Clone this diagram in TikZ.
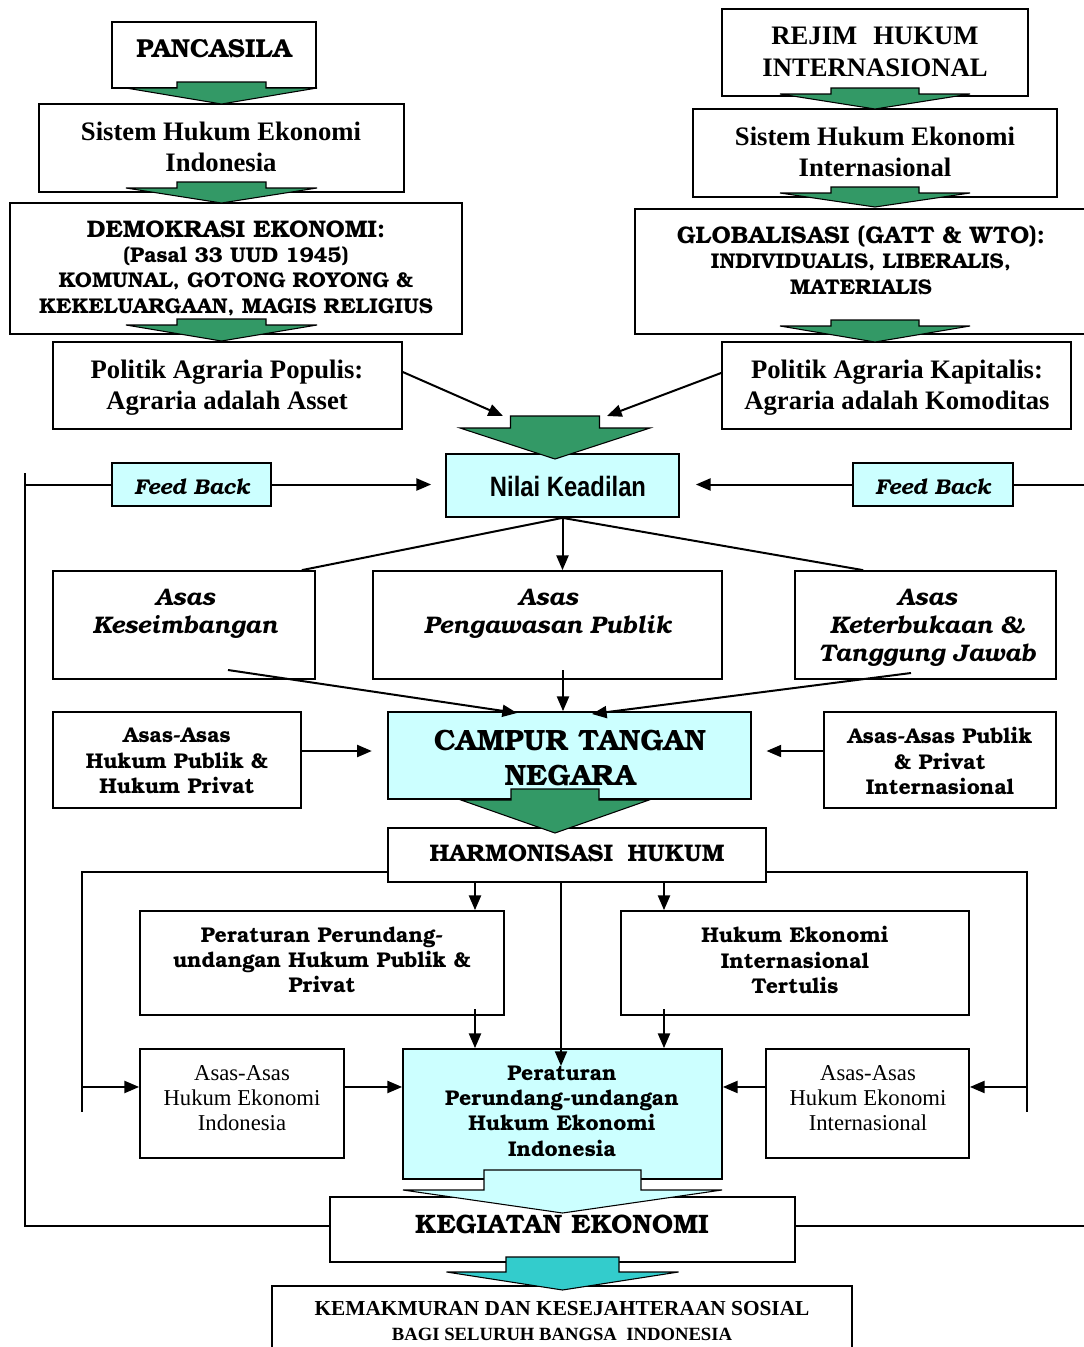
\documentclass[tikz,border=0pt]{standalone}
\usepackage{fontspec}
\setmainfont{Liberation Serif}
\newfontfamily\bk{texgyrebonum}[Extension=.otf,UprightFont=*-regular,BoldFont=*-bold,ItalicFont=*-italic,BoldItalicFont=*-bolditalic]
\newfontfamily\arn{Liberation Sans}[FakeStretch=0.85]
\usetikzlibrary{arrows.meta,fit,calc}
\definecolor{sea}{HTML}{339966}
\definecolor{lcyan}{HTML}{CCFFFF}
\definecolor{teal2}{HTML}{33CCCC}
\newcommand\fsz[2]{\fontsize{#1}{#2}\selectfont}
\newcommand\blockarr[7]{%
  \draw[#7] ({#1-#2},#3) -- ({#1+#2},#3) -- ({#1+#2},#5) -- ({#1+#4},#5) -- (#1,#6) -- ({#1-#4},#5) -- ({#1-#2},#5) -- cycle;}
\tikzset{
  box/.style={draw, line width=1.3pt, inner sep=0pt, fill=white},
  cbox/.style={box, fill=lcyan},
  txt/.style={align=center, inner sep=0pt},
  conn/.style={line width=1.5pt},
  arr/.style={conn, -{Triangle[length=11pt,width=9pt]}},
  blk/.style={draw, line width=0.8pt, fill=sea, line join=miter},
}
\begin{document}
\begin{tikzpicture}[x=0.75pt,y=-0.75pt]
\useasboundingbox (0,0) rectangle (1084,1347);
\clip (0,0) rectangle (1084,1347);
\fill[white] (0,0) rectangle (1084,1347);
% ---------- boxes ----------
\node[box, fit={(112,22) (316,88)}] (panc) {};
\node[box, fit={(39,104) (404,192)}] (shei) {};
\node[box, fit={(10,203) (462,334)}] (demo) {};
\node[box, fit={(53,342) (402,429)}] (pop) {};
\node[box, fit={(722,9) (1028,96)}] (rejim) {};
\node[box, fit={(693,109) (1057,197)}] (shein) {};
\node[box, fit={(635,209) (1090,334)}] (glob) {};
\node[box, fit={(722,342) (1071,429)}] (kap) {};
\node[cbox, fit={(446,454) (679,517)}] (nilai) {};
\node[cbox, fit={(112,463) (271,506)}] (fbL) {};
\node[cbox, fit={(853,463) (1013,506)}] (fbR) {};
\node[box, fit={(53,571) (315,679)}] (ask) {};
\node[box, fit={(373,571) (722,679)}] (apg) {};
\node[box, fit={(795,571) (1056,679)}] (akt) {};
\node[cbox, fit={(388,712) (751,799)}] (campur) {};
\node[box, fit={(53,712) (301,808)}] (ahp) {};
\node[box, fit={(824,712) (1056,808)}] (app) {};
\node[box, fit={(388,828) (766,882)}] (harm) {};
\node[box, fit={(140,911) (504,1015)}] (pphp) {};
\node[box, fit={(621,911) (969,1015)}] (heit) {};
\node[box, fit={(140,1049) (344,1158)}] (aheI) {};
\node[cbox, fit={(403,1049) (722,1179)}] (pphe) {};
\node[box, fit={(766,1049) (969,1158)}] (aheInt) {};
\node[box, fit={(330,1197) (795,1262)}] (keg) {};
\node[box, fit={(272,1286) (852,1362)}] (kem) {};
% ---------- connectors ----------
\coordinate (bigL) at (503,416);
\coordinate (bigR) at (607,416);
\draw[arr] ([yshift=10.1pt]pop.east) -- (bigL);
\draw[arr] ([yshift=9.4pt]kap.west) -- (bigR);
% feedback loop
\coordinate (fbTL) at (25,473);
\coordinate (fbBL) at (25,1226);
\coordinate (fbBR) at (1090,1226);
\coordinate (fbTR) at (1090,484);
\draw[conn] (fbTL) -- (fbBL) -- (fbBL -| keg.west);
\draw[conn] (keg.east |- fbBR) -- (fbBR);
\draw[conn] (fbL.west -| fbTL) -- (fbL.west);
\draw[arr, shorten >=10.5pt] (fbL.east) -- (fbL.east -| nilai.west);
\draw[arr, shorten >=12pt] (fbR.west) -- (fbR.west -| nilai.east);
\draw[conn] (fbR.east) -- (fbR.east -| fbTR);
% nilai to asas
\draw[conn] (nilai.south) -- ([xshift=-10.5pt]ask.north east);
\draw[conn] (nilai.south) -- ([xshift=51.75pt]akt.north west);
\draw[arr] (nilai.south) -- (nilai.south |- apg.north);
% asas to campur
\coordinate (askOut) at (228,670);
\coordinate (apgOut) at (563,670);
\coordinate (aktOut) at (911,673);
\coordinate (cIn1) at (517,713);
\coordinate (cIn3) at (592,714);
\draw[arr] (askOut) -- (cIn1);
\draw[arr] (apgOut) -- (apgOut |- campur.north);
\draw[arr] (aktOut) -- (cIn3);
\coordinate (hpOut) at ([yshift=6.75pt]ahp.east);
\coordinate (ppOut) at ([yshift=6.75pt]app.west);
\draw[arr, shorten >=11.5pt] (hpOut) -- (hpOut -| campur.west);
\draw[arr, shorten >=11pt] (ppOut) -- (ppOut -| campur.east);
% harmonisasi
\coordinate (hL) at (82,1112);
\coordinate (hR) at (1027,1112);
\draw[conn] ([yshift=-12.75pt]harm.west) -| (hL);
\draw[conn] ([yshift=-12.75pt]harm.east) -| (hR);
\coordinate (aL) at ([yshift=12.4pt]aheI.west);
\coordinate (aR) at ([yshift=12.4pt]aheInt.east);
\coordinate (aM1) at ([yshift=12.4pt]aheI.east);
\coordinate (aM2) at ([yshift=12.4pt]aheInt.west);
\draw[arr] (aL -| hL) -- (aL);
\draw[arr] (aR -| hR) -- (aR);
\draw[arr] (aM1) -- (aM1 -| pphe.west);
\draw[arr] (aM2) -- (aM2 -| pphe.east);
\coordinate (v1) at (475,0);
\coordinate (v2) at (664,0);
\coordinate (v0) at (561,0);
\draw[arr] (harm.south -| v1) -- (pphp.north -| v1);
\draw[arr] (harm.south -| v2) -- (heit.north -| v2);
\coordinate (vIn) at (561,1066);
\draw[arr] (harm.south -| v0) -- (vIn);
\coordinate (p1) at (475,1009);
\coordinate (p2) at (664,1009);
\draw[arr] (p1) -- (p1 |- pphe.north);
\draw[arr] (p2) -- (p2 |- pphe.north);
% ---------- block arrows ----------
\blockarr{221.5}{44.5}{82}{95.5}{88}{104}{blk}
\blockarr{221.5}{44.5}{182}{95.5}{188}{203}{blk}
\blockarr{221.5}{44.5}{319}{95.5}{325}{341}{blk}
\blockarr{875}{44}{88}{95}{94}{109}{blk}
\blockarr{875}{44}{187}{95}{193}{207}{blk}
\blockarr{875}{44}{320}{95}{326}{342}{blk}
\blockarr{555}{44.5}{416}{95}{428}{459}{blk}
\blockarr{555}{44}{789}{94}{800}{833}{blk}
\blockarr{562.5}{78.5}{1170}{159.5}{1190}{1213}{blk, fill=lcyan}
\blockarr{562.5}{56.5}{1257}{116}{1272}{1290}{blk, fill=teal2}
% ---------- texts ----------
\node[txt, font=\bk\bfseries\fsz{19.5}{23}] (tpanc) at (214,49) {PANCASILA};
\node[txt, font=\bfseries\fsz{20}{23.5}] (tshei) at (221,147) {Sistem Hukum Ekonomi\\Indonesia};
\node[txt, font=\bk\bfseries\fsz{16}{19}] (tdemo) at (236,268) {{\fsz{18}{19}DEMOKRASI EKONOMI:}\\(Pasal 33 UUD 1945)\\KOMUNAL, GOTONG ROYONG \&\\KEKELUARGAAN, MAGIS RELIGIUS};
\node[txt, font=\bfseries\fsz{20}{23.5}] (tpop) at (227,388) {Politik Agraria Populis:\\Agraria adalah Asset};
\node[txt, font=\bfseries\fsz{20}{24}] (trejim) at (875,52) {REJIM\hspace{0.6em}HUKUM\\INTERNASIONAL};
\node[txt, font=\bfseries\fsz{20}{23.5}] (tshein) at (875,152) {Sistem Hukum Ekonomi\\Internasional};
\node[txt, font=\bk\bfseries\fsz{16}{19}] (tglob) at (861,260) {{\fsz{18}{19}GLOBALISASI (GATT \& WTO):}\\INDIVIDUALIS, LIBERALIS,\\MATERIALIS};
\node[txt, font=\bfseries\fsz{20}{23.5}] (tkap) at (897,388) {Politik Agraria Kapitalis:\\Agraria adalah Komoditas};
\node[txt, font=\arn\bfseries\fsz{21}{24}] (tnilai) at (568,486) {Nilai Keadilan};
\node[txt, font=\bk\bfseries\itshape\fsz{16}{19}] (tfbL) at (192,487) {Feed Back};
\node[txt, font=\bk\bfseries\itshape\fsz{16}{19}] (tfbR) at (933,487) {Feed Back};
\node[txt, font=\bk\bfseries\itshape\fsz{18}{21}] (task) at (185,614) {Asas\\Keseimbangan};
\node[txt, font=\bk\bfseries\itshape\fsz{18}{21}] (tapg) at (548,614) {Asas\\Pengawasan Publik};
\node[txt, font=\bk\bfseries\itshape\fsz{18}{21}] (takt) at (927,628) {Asas\\Keterbukaan \&\\Tanggung Jawab};
\node[txt, font=\bk\bfseries\fsz{22}{26}] (tcampur) at (570,758) {CAMPUR TANGAN\\NEGARA};
\node[txt, font=\bk\bfseries\fsz{16}{19}] (tahp) at (177,761) {Asas-Asas\\Hukum Publik \&\\Hukum Privat};
\node[txt, font=\bk\bfseries\fsz{16}{19}] (tapp) at (940,761) {Asas-Asas Publik\\\& Privat\\Internasional};
\node[txt, font=\bk\bfseries\fsz{18}{21}] (tharm) at (577,853) {HARMONISASI\hspace{0.6em}HUKUM};
\node[txt, font=\bk\bfseries\fsz{16}{19}] (tpphp) at (322,960) {Peraturan Perundang-\\undangan Hukum Publik \&\\Privat};
\node[txt, font=\bk\bfseries\fsz{16}{19}] (theit) at (795,960) {Hukum Ekonomi\\Internasional\\Tertulis};
\node[txt, font=\fsz{17}{19}] (taheI) at (242,1098) {Asas-Asas\\Hukum Ekonomi\\Indonesia};
\node[txt, font=\bk\bfseries\fsz{16}{19}] (tpphe) at (562,1111) {Peraturan\\Perundang-undangan\\Hukum Ekonomi\\Indonesia};
\node[txt, font=\fsz{17}{19}] (taheInt) at (868,1098) {Asas-Asas\\Hukum Ekonomi\\Internasional};
\node[txt, font=\bk\bfseries\fsz{20}{24}] (tkeg) at (562,1224) {KEGIATAN EKONOMI};
\node[txt, font=\bfseries\fsz{16}{19}] (tkem) at (562,1321) {KEMAKMURAN DAN KESEJAHTERAAN SOSIAL\\{\fsz{14}{19}BAGI SELURUH BANGSA\hspace{0.5em}INDONESIA}};
\end{tikzpicture}
\end{document}
